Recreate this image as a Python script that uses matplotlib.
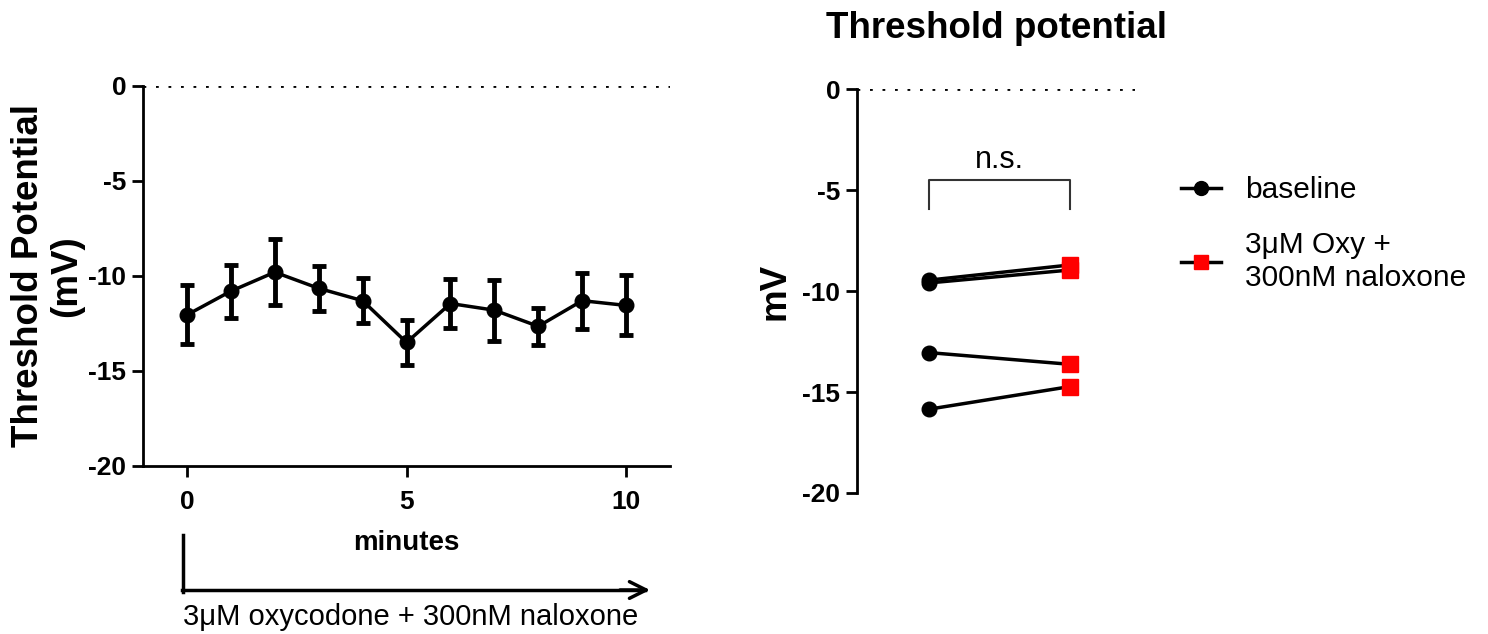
import numpy as np
import matplotlib
matplotlib.use("Agg")
import matplotlib.pyplot as plt
from matplotlib.lines import Line2D

plt.rcParams["font.family"] = ["Liberation Sans", "DejaVu Sans"]
plt.rcParams["axes.unicode_minus"] = False

# time course (mean +/- SEM)
minutes = [0, 1, 2, 3, 4, 5, 6, 7, 8, 9, 10]
thr_mean = [-12.05, -10.8, -9.8, -10.65, -11.3, -13.5, -11.45, -11.8, -12.65, -11.3, -11.55]
thr_sem = [1.55, 1.4, 1.75, 1.18, 1.2, 1.17, 1.3, 1.6, 0.98, 1.47, 1.58]

# paired cells
conditions = ["baseline", "3\u03bcM Oxy +\n300nM naloxone"]
baseline = [-9.46, -9.6, -13.05, -15.85]
treated = [-8.71, -8.96, -13.63, -14.73]

yticks = [0, -5, -10, -15, -20]
DOT = (0, (1, 3.5))

fig = plt.figure(figsize=(14.88, 6.34), dpi=100)
ax1 = fig.add_axes([0.0961, 0.265, 0.3542, 0.5994])
ax2 = fig.add_axes([0.576, 0.2224, 0.1868, 0.6372])

# ---- left: time course ----
ax1.errorbar(minutes, thr_mean, yerr=thr_sem, fmt="-o", color="black", ms=10.5,
             lw=2.5, elinewidth=3.5, capsize=5, capthick=3.5)
ax1.axhline(0, color="black", ls=DOT, lw=2)
ax1.set_xlim(-1, 11)
ax1.set_ylim(-20, 0)
ax1.set_xticks([0, 5, 10])
ax1.set_yticks(yticks)
for s in ("top", "right"):
    ax1.spines[s].set_visible(False)
for s in ("left", "bottom"):
    ax1.spines[s].set_linewidth(2)
ax1.tick_params(width=2, length=8, labelsize=19, pad=4)
ax1.tick_params(axis="x", pad=9)
for lab in ax1.get_xticklabels() + ax1.get_yticklabels():
    lab.set_fontweight("bold")
ax1.set_xlabel("minutes", fontsize=20, fontweight="bold", labelpad=12)
ax1.set_ylabel("Threshold Potential\n(mV)", fontsize=26.5, fontweight="bold",
               labelpad=3, linespacing=1.12)

# drug application arrow
x0 = 183 / 1488
fig.add_artist(Line2D([x0, x0], [1 - 535 / 634, 1 - 592 / 634], color="black", lw=2.5))
fig.add_artist(Line2D([x0 - 0.001, 645 / 1488], [1 - 590 / 634, 1 - 590 / 634],
                      color="black", lw=2.5))
ax1.annotate("", xy=(650 / 1488, 1 - 590 / 634), xycoords="figure fraction",
             xytext=(620 / 1488, 1 - 590 / 634), textcoords="figure fraction",
             arrowprops=dict(arrowstyle="->", lw=2.5, color="black",
                             mutation_scale=30, shrinkA=0, shrinkB=0))
fig.text(411 / 1488, 1 - 617 / 634, "3\u03bcM oxycodone + 300nM naloxone",
         ha="center", va="center", fontsize=21)

# ---- right: paired comparison ----
for b, t in zip(baseline, treated):
    ax2.plot([0, 1], [b, t], color="black", lw=2.5, zorder=2)
ax2.plot([0] * len(baseline), baseline, "o", color="black", ms=10.5, zorder=3)
ax2.plot([1] * len(treated), treated, "s", color="#ff0000", ms=11, zorder=3)
ax2.axhline(0, color="black", ls=DOT, lw=2)
ax2.plot([0, 0, 1, 1], [-5.95, -4.5, -4.5, -5.95], color="#333333", lw=1.5)
ax2.text(0.5, -3.5, "n.s.", ha="center", va="center", fontsize=22)
ax2.set_xlim(-0.51, 1.46)
ax2.set_ylim(-20, 0)
ax2.set_xticks([])
ax2.set_yticks(yticks)
for s in ("top", "right", "bottom"):
    ax2.spines[s].set_visible(False)
ax2.spines["left"].set_linewidth(2)
ax2.tick_params(width=2, length=8, labelsize=19, pad=4)
for lab in ax2.get_yticklabels():
    lab.set_fontweight("bold")
ax2.set_ylabel("mV", fontsize=26.5, fontweight="bold", labelpad=7)
ax2.set_title("Threshold potential", fontsize=26.5, fontweight="bold", pad=37)

handles = [
    Line2D([], [], color="black", lw=2.5, marker="o", ms=10),
    Line2D([], [], color="black", lw=2.5, marker="s", ms=10,
           markerfacecolor="#ff0000", markeredgecolor="#ff0000"),
]
leg = fig.legend(handles, conditions, loc="upper left",
                 bbox_to_anchor=(1181 / 1488, 1 - 176 / 634), frameon=False,
                 fontsize=21.5, handlelength=1.35, labelspacing=0.9,
                 handletextpad=0.8, borderaxespad=0, borderpad=0)
for t in leg.get_texts():
    t.set_linespacing(1.25)

fig.savefig("out.png", dpi=100)
